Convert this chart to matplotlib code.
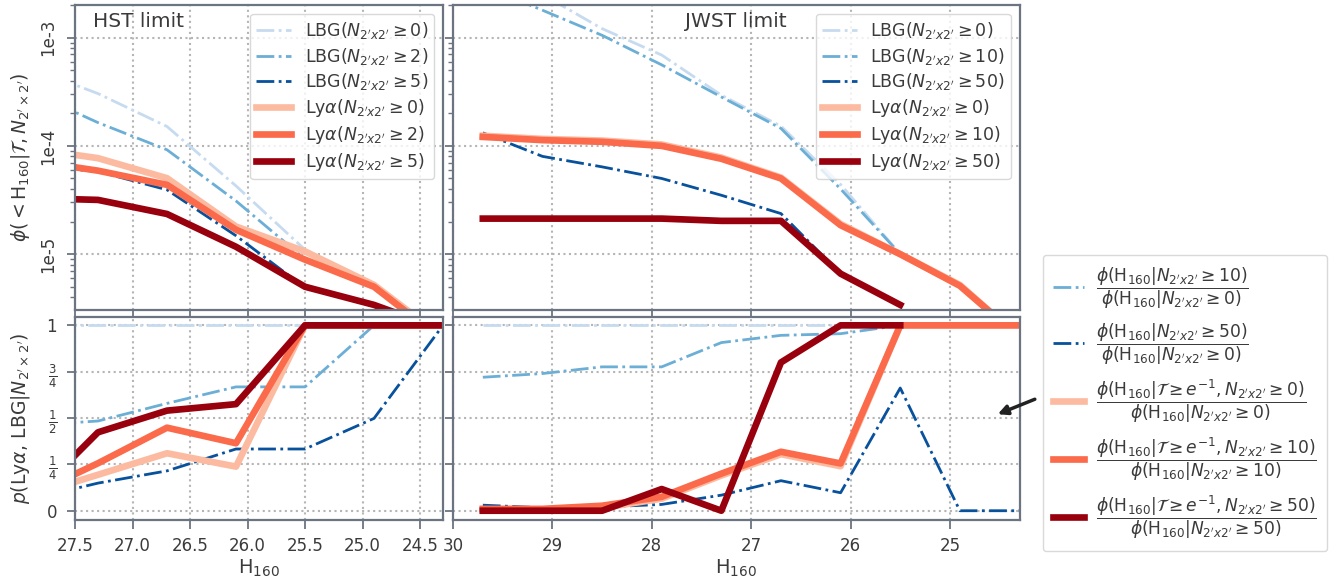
import numpy as np
import matplotlib
matplotlib.use("Agg")
import matplotlib.pyplot as plt

nan = np.nan

# H160 grid for each survey limit
h160_hst = [27.9, 27.3, 26.7, 26.1, 25.5, 24.9, 24.3]
h160_jwst = [29.7, 29.1, 28.5, 27.9, 27.3, 26.7, 26.1, 25.5, 24.9, 24.3]

# number densities, HST limit
lbg0_hst = [5.3e-4, 3.04e-4, 1.51e-4, 4.27e-5, 1.1e-5, 5.2e-6, 1.7e-6]
lbg2_hst = [3.2e-4, 1.64e-4, 9.2e-5, 3.1e-5, 9.0e-6, 5.0e-6, 1.6e-6]
lbg5_hst = [6.6e-5, 5.8e-5, 3.93e-5, 1.48e-5, 4.9e-6, 3.3e-6, 2.0e-6]
lya0_hst = [9.5e-5, 7.7e-5, 5.03e-5, 1.8e-5, 1.06e-5, 5.2e-6, 1.7e-6]
lya2_hst = [7.35e-5, 5.9e-5, 4.37e-5, 1.68e-5, 8.9e-6, 5.0e-6, 1.6e-6]
lya5_hst = [3.3e-5, 3.17e-5, 2.35e-5, 1.17e-5, 5.0e-6, 3.4e-6, 2.0e-6]

# number densities, JWST limit
lbg0_jwst = [5.6e-3, 2.5e-3, 1.21e-3, 6.9e-4, 2.94e-4, 1.52e-4, 4.4e-5, 1.0e-5, 5.2e-6, 1.7e-6]
lbg10_jwst = [3.0e-3, 1.79e-3, 1.05e-3, 5.6e-4, 2.83e-4, 1.45e-4, 4.0e-5, 1.0e-5, 5.1e-6, 1.7e-6]
lbg50_jwst = [1.32e-4, 8.0e-5, 6.4e-5, 5.0e-5, 3.5e-5, 2.37e-5, 6.6e-6, 3.4e-6, nan, nan]
lya0_jwst = [1.24e-4, 1.16e-4, 1.12e-4, 1.03e-4, 7.8e-5, 5.1e-5, 1.9e-5, 1.0e-5, 5.2e-6, 1.7e-6]
lya10_jwst = [1.21e-4, 1.13e-4, 1.09e-4, 1.0e-4, 7.6e-5, 5.0e-5, 1.85e-5, 1.0e-5, 5.1e-6, 1.7e-6]
lya50_jwst = [2.13e-5, 2.13e-5, 2.13e-5, 2.13e-5, 2.03e-5, 2.03e-5, 6.6e-6, 3.4e-6, nan, nan]

# ratios, HST limit
p_lbg0_hst = [1, 1, 1, 1, 1, 1, 1]
p_lbg2_hst = [0.46, 0.484, 0.579, 0.668, 0.668, 1.0, 1.0]
p_lbg5_hst = [0.06, 0.149, 0.215, 0.333, 0.333, 0.498, 1.0]
p_lya0_hst = [0.08, 0.194, 0.31, 0.238, 1.0, 1.0, 1.0]
p_lya2_hst = [0.08, 0.256, 0.448, 0.364, 1.0, 1.0, 1.0]
p_lya5_hst = [0.05, 0.423, 0.54, 0.575, 1.0, 1.0, 1.0]

# ratios, JWST limit
p_lbg0_jwst = [1, 1, 1, 1, 1, 1, 1, 1, 1, 1]
p_lbg10_jwst = [0.72, 0.74, 0.776, 0.776, 0.907, 0.946, 0.955, 1, 1, 1]
p_lbg50_jwst = [0.03, 0.016, 0.02, 0.034, 0.084, 0.162, 0.097, 0.662, 0.0, 0.0]
p_lya0_jwst = [0.005, 0.005, 0.015, 0.065, 0.19, 0.305, 0.24, 1, 1, 1]
p_lya10_jwst = [0.01, 0.01, 0.027, 0.075, 0.2, 0.318, 0.255, 1, 1, 1]
p_lya50_jwst = [0.0, 0.0, 0.0, 0.117, 0.0, 0.80, 1.0, 1.0, nan, nan]

blues = ['#c6dbef', '#6baed6', '#08519c']
reds = ['#fcbba1', '#fb6a4a', '#99000d']

spine = '#6b7480'
txt = '#3b3b3b'
plt.rcParams.update({
    'font.family': 'DejaVu Sans',
    'mathtext.fontset': 'dejavusans',
    'axes.edgecolor': spine,
    'axes.linewidth': 1.6,
    'xtick.color': spine,
    'ytick.color': spine,
    'xtick.labelcolor': txt,
    'ytick.labelcolor': txt,
    'text.color': txt,
    'axes.labelcolor': txt,
    'xtick.labelsize': 12,
    'ytick.labelsize': 12,
    'xtick.major.size': 6.5,
    'ytick.major.size': 6.0,
    'xtick.major.pad': 6,
    'ytick.major.pad': 7,
    'xtick.major.width': 1.3,
    'ytick.major.width': 1.3,
    'ytick.minor.size': 3.5,
    'ytick.minor.width': 1.0,
    'grid.linestyle': ':',
    'grid.color': '#b5b5b5',
    'grid.linewidth': 1.5,
    'legend.edgecolor': '#d0d0d0',
})

fig = plt.figure(figsize=(13.3, 5.84), dpi=100)
W, H = 1330, 584
def box(x0, x1, y0, y1):
    return [x0 / W, 1 - y1 / H, (x1 - x0) / W, (y1 - y0) / H]

ax_tl = fig.add_axes(box(75, 443, 5, 310))
ax_tr = fig.add_axes(box(453, 1019.5, 5, 310), sharey=ax_tl)
ax_bl = fig.add_axes(box(75, 443, 317, 520), sharex=ax_tl)
ax_br = fig.add_axes(box(453, 1019.5, 317, 520), sharex=ax_tr, sharey=ax_bl)

lbg_lw = 2.0
lya_lw = 4.8

def lbg_lab(n):
    return r"LBG($N_{2'x2'}\geq%d$)" % n

def lya_lab(n):
    return r"Ly$\alpha$($N_{2'x2'}\geq%d$)" % n

# top left: HST
for y, c, n in zip([lbg0_hst, lbg2_hst, lbg5_hst], blues, [0, 2, 5]):
    ax_tl.plot(h160_hst, y, '-.', color=c, lw=lbg_lw, label=lbg_lab(n))
for y, c, n in zip([lya0_hst, lya2_hst, lya5_hst], reds, [0, 2, 5]):
    ax_tl.plot(h160_hst, y, '-', color=c, lw=lya_lw, label=lya_lab(n))

# top right: JWST
for y, c, n in zip([lbg0_jwst, lbg10_jwst, lbg50_jwst], blues, [0, 10, 50]):
    ax_tr.plot(h160_jwst, y, '-.', color=c, lw=lbg_lw, label=lbg_lab(n))
for y, c, n in zip([lya0_jwst, lya10_jwst, lya50_jwst], reds, [0, 10, 50]):
    ax_tr.plot(h160_jwst, y, '-', color=c, lw=lya_lw, label=lya_lab(n))

# bottom left
for y, c in zip([p_lbg0_hst, p_lbg2_hst, p_lbg5_hst], blues):
    ax_bl.plot(h160_hst, y, '-.', color=c, lw=lbg_lw)
for y, c in zip([p_lya0_hst, p_lya2_hst, p_lya5_hst], reds):
    ax_bl.plot(h160_hst, y, '-', color=c, lw=lya_lw)

# bottom right (these carry the ratio legend)
phi0 = r"\phi(\mathrm{H}_{160}|N_{2'x2'}\geq0)"
ratio_labels = [
    None,
    r"$\dfrac{\phi(\mathrm{H}_{160}|N_{2'x2'}\geq10)}{%s}$" % phi0,
    r"$\dfrac{\phi(\mathrm{H}_{160}|N_{2'x2'}\geq50)}{%s}$" % phi0,
    r"$\dfrac{\phi(\mathrm{H}_{160}|\mathcal{T}\geq e^{-1},N_{2'x2'}\geq0)}{%s}$" % phi0,
    r"$\dfrac{\phi(\mathrm{H}_{160}|\mathcal{T}\geq e^{-1},N_{2'x2'}\geq10)}{\phi(\mathrm{H}_{160}|N_{2'x2'}\geq10)}$",
    r"$\dfrac{\phi(\mathrm{H}_{160}|\mathcal{T}\geq e^{-1},N_{2'x2'}\geq50)}{\phi(\mathrm{H}_{160}|N_{2'x2'}\geq50)}$",
]
handles = []
for y, c, lab in zip([p_lbg0_jwst, p_lbg10_jwst, p_lbg50_jwst], blues, ratio_labels[:3]):
    ln, = ax_br.plot(h160_jwst, y, '-.', color=c, lw=lbg_lw)
    if lab:
        ln.set_label(lab)
        handles.append(ln)
for y, c, lab in zip([p_lya0_jwst, p_lya10_jwst, p_lya50_jwst], reds, ratio_labels[3:]):
    ln, = ax_br.plot(h160_jwst, y, '-', color=c, lw=lya_lw, label=lab)
    handles.append(ln)

# axes setup
ax_tl.set_yscale('log')
ax_tl.set_ylim(3.05e-6, 2e-3)
ax_tl.set_yticks([1e-3, 1e-4, 1e-5])
ax_tl.set_yticklabels(['1e-3', '1e-4', '1e-5'], rotation=90, va='center')
ax_tl.yaxis.set_minor_formatter(matplotlib.ticker.NullFormatter())

ax_tl.set_xlim(27.5, 24.3)
ax_tr.set_xlim(30, 24.3)
ax_bl.set_xticks([27.5, 27.0, 26.5, 26.0, 25.5, 25.0, 24.5])
ax_bl.set_xticklabels(['27.5', '27.0', '26.5', '26.0', '25.5', '25.0', '24.5'])
ax_br.set_xticks([30, 29, 28, 27, 26, 25])
ax_br.set_xticklabels(['30', '29', '28', '27', '26', '25'])

ax_bl.set_ylim(-0.05, 1.045)
ax_bl.set_yticks([0, 0.25, 0.5, 0.75, 1])
ax_bl.set_yticklabels(['0', r'$\frac{1}{4}$', r'$\frac{1}{2}$', r'$\frac{3}{4}$', '1'])

for ax in (ax_tl, ax_tr, ax_bl, ax_br):
    ax.grid(True, which='major')
    ax.set_axisbelow(True)
for ax in (ax_tl, ax_tr):
    ax.tick_params(labelbottom=False)
for ax in (ax_tr, ax_br):
    ax.tick_params(labelleft=False)

ax_tl.set_ylabel(r"$\phi(<\mathrm{H}_{160}|\mathcal{T},N_{2'\times2'})$", fontsize=13.5)
ax_bl.set_ylabel(r"$p(\mathrm{Ly}\alpha,\,\mathrm{LBG}|N_{2'\times2'})$", fontsize=13.5)
ax_tl.yaxis.set_label_coords(-0.117, 0.5)
ax_bl.yaxis.set_label_coords(-0.117, 0.5)
ax_bl.set_xlabel(r"H$_{160}$", fontsize=14, labelpad=2)
ax_br.set_xlabel(r"H$_{160}$", fontsize=14, labelpad=2)

ax_tl.text(0.05, 0.929, 'HST limit', transform=ax_tl.transAxes, fontsize=14.5)
ax_tr.text(0.41, 0.929, 'JWST limit', transform=ax_tr.transAxes, fontsize=14.5)

leg_kw = dict(loc='upper right', fontsize=12.5, handlelength=2.0, labelspacing=0.28,
              borderpad=0.35, framealpha=0.8)
ax_tl.legend(**leg_kw)
ax_tr.legend(**leg_kw)

fig.legend(handles=handles, loc='center left', bbox_to_anchor=(1043 / W, 1 - 403 / H),
           fontsize=12.3, handlelength=1.8, labelspacing=0.62, borderpad=0.6,
           handletextpad=0.7, borderaxespad=0, framealpha=0.8)

ax_br.annotate('', xy=(24.545, 0.515), xytext=(24.12, 0.607),
               arrowprops=dict(arrowstyle='-|>', color='#222222', lw=2.5, mutation_scale=14),
               annotation_clip=False)

fig.savefig('out.png', dpi=100)
